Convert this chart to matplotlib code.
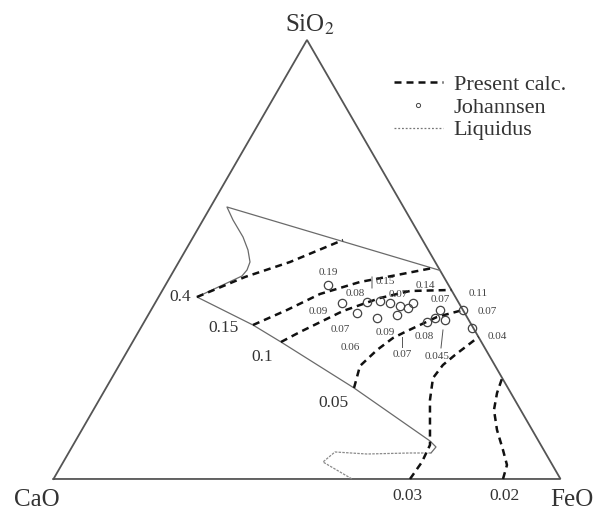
import numpy as np
import matplotlib
matplotlib.use("Agg")
import matplotlib.pyplot as plt
from matplotlib.lines import Line2D

plt.rcParams['font.family'] = ['Liberation Serif', 'DejaVu Serif']
plt.rcParams['mathtext.fontset'] = 'stix'

# All compositions are mole fractions (SiO2, FeO); CaO = 1 - SiO2 - FeO
# Liquidus boundary (solid part)
liq_sio2 = [0.475, 0.6195, 0.5899, 0.5512, 0.5216, 0.4942, 0.4760, 0.4623,
            0.4145, 0.3507, 0.3120, 0.2073, 0.0866, 0.0729, 0.0592]
liq_feo = [0.525, 0.0324, 0.0591, 0.0982, 0.1228, 0.1405, 0.1437, 0.1406,
           0.0757, 0.2181, 0.2927, 0.4891, 0.6993, 0.7180, 0.7150]
# Liquidus boundary (dotted lower part)
liqd_sio2 = [0.0592, 0.0592, 0.0569, 0.0615, 0.0387, 0.0]
liqd_feo = [0.7150, 0.6736, 0.5898, 0.5244, 0.5122, 0.5888]

# Present calculation iso-lines
iso_values = ["0.4", "0.15", "0.1", "0.05", "0.03", "0.02"]
iso_sio2 = [
    [0.4145, 0.4601, 0.4942, 0.5443],
    [0.3507, 0.3849, 0.4213, 0.4487, 0.4646, 0.4806],
    [0.3120, 0.3348, 0.3826, 0.4122, 0.4282, 0.4305],
    [0.2073, 0.2574, 0.2938, 0.3211, 0.3348, 0.3690, 0.3849],
    [0.0, 0.0387, 0.0774, 0.1799, 0.2300, 0.2597, 0.2824, 0.3234],
    [0.0, 0.0319, 0.0660, 0.1116, 0.1572, 0.1959, 0.2300],
]
iso_feo = [
    [0.0757, 0.1477, 0.2194, 0.2988],
    [0.2181, 0.2681, 0.3149, 0.3801, 0.4452, 0.5082],
    [0.2927, 0.3188, 0.3797, 0.4379, 0.4891, 0.5695],
    [0.4891, 0.4758, 0.4912, 0.5090, 0.5259, 0.5719, 0.6151],
    [0.7032, 0.7074, 0.7039, 0.6526, 0.6335, 0.6383, 0.6507, 0.6766],
    [0.8866, 0.8785, 0.8536, 0.8190, 0.7902, 0.7769, 0.7700],
]
# iso-line label anchor compositions
isolab_sio2 = [0.4145, 0.3439, 0.2779, 0.1731, 0.0, 0.0]
isolab_feo = [0.0422, 0.1643, 0.2723, 0.4648, 0.6989, 0.8902]

# Johannsen experimental points
joh_sio2 = [0.4418, 0.4009, 0.3781, 0.4031, 0.3667, 0.4054, 0.4009, 0.3735,
            0.3940, 0.3895, 0.4009, 0.3576, 0.3667, 0.3849, 0.3621, 0.3849, 0.3439]
joh_feo = [0.3205, 0.3686, 0.4096, 0.4167, 0.4547, 0.4413, 0.4633, 0.4907,
           0.4864, 0.5045, 0.5087, 0.5579, 0.5691, 0.5698, 0.5911, 0.6151, 0.6534]

# Johannsen values and their label compositions
jlab_text = ["0.19", "0.08", "0.15", "0.07", "0.14", "0.07", "0.11", "0.07", "0.04",
             "0.09", "0.07", "0.06", "0.09", "0.08", "0.07", "0.045"]
jlab_sio2 = [0.4692, 0.4236, 0.4487, 0.4191, 0.4418, 0.4077, 0.4236, 0.3826, 0.3234,
             0.3804, 0.3394, 0.2984, 0.3325, 0.3234, 0.2824, 0.2801]
jlab_feo = [0.3068, 0.3829, 0.4294, 0.4700, 0.5118, 0.5584, 0.6255, 0.6637, 0.7131,
            0.3315, 0.3954, 0.4356, 0.4875, 0.5691, 0.5462, 0.6163]
# leader ticks (pairs)
lead_sio2 = [[0.4601, 0.4350], [0.3234, 0.3006], [0.3394, 0.2984]]
lead_feo = [[0.3982, 0.4107], [0.5257, 0.5371], [0.5985, 0.6151]]

corner_names = ["CaO", "FeO", "SiO$_2$"]


def tern(s, f):
    s = np.asarray(s, dtype=float)
    f = np.asarray(f, dtype=float)
    return f + s / 2.0, s * np.sqrt(3) / 2.0


fig = plt.figure(figsize=(6.01, 5.13), dpi=100)
ax = fig.add_axes([0, 0, 1, 1])
ax.set_xlim(-0.1055, 1.0799)
ax.set_ylim(-0.0671, 0.9448)
ax.axis('off')

# triangle
tx, ty = tern([0, 0, 1, 0], [0, 1, 0, 0])
ax.plot(tx, ty, color='#555555', lw=1.3, solid_joinstyle='miter')

# liquidus
lx, ly = tern(liq_sio2, liq_feo)
ax.plot(lx, ly, color='#6a6a6a', lw=0.9)
dx, dy = tern(liqd_sio2, liqd_feo)
ax.plot(dx, dy, color='#8a8a8a', lw=0.9, linestyle=(0, (2, 1)))

# iso-lines
for s, f in zip(iso_sio2, iso_feo):
    x, y = tern(s, f)
    ax.plot(x, y, color='#111111', lw=1.8, dashes=(2.8, 2.0))

# iso labels
for i, (t, s, f) in enumerate(zip(iso_values, isolab_sio2, isolab_feo)):
    x, y = tern(s, f)
    if s == 0.0:
        ax.annotate(t, (x, y), xytext=(0, -12), textcoords='offset points',
                    ha='center', va='center', fontsize=12.5, color='#333333')
    else:
        ax.text(x, y, t, ha='center', va='center', fontsize=12.5, color='#333333')

# Johannsen points
jx, jy = tern(joh_sio2, joh_feo)
ax.plot(jx, jy, linestyle='none', marker='o', ms=6, mfc='none',
        mec='#444444', mew=0.9)

for t, s, f in zip(jlab_text, jlab_sio2, jlab_feo):
    x, y = tern(s, f)
    ax.text(x, y, t, ha='center', va='center', fontsize=8, color='#444444')

for s, f in zip(lead_sio2, lead_feo):
    x, y = tern(s, f)
    ax.plot(x, y, color='#555555', lw=0.7)

# corner labels
cx, cy = tern([0, 0, 1], [0, 1, 0])
ax.annotate(corner_names[0], (cx[0], cy[0]), xytext=(-12, -15), textcoords='offset points',
            ha='center', va='center', fontsize=18, color='#333333')
ax.annotate(corner_names[1], (cx[1], cy[1]), xytext=(8, -15), textcoords='offset points',
            ha='center', va='center', fontsize=18, color='#333333')
ax.annotate(corner_names[2], (cx[2], cy[2]), xytext=(2, 11), textcoords='offset points',
            ha='center', va='center', fontsize=18, color='#333333')

# legend
handles = [
    Line2D([], [], color='#111111', lw=1.8, dashes=(2.8, 2.0)),
    Line2D([], [], linestyle='none', marker='o', ms=3, mfc='none', mec='#444444', mew=0.7),
    Line2D([], [], color='#777777', lw=0.9, linestyle=(0, (1.5, 1.5))),
]
labels = ["Present calc.", "Johannsen", "Liquidus"]
leg = ax.legend(handles, labels, loc='upper left', bbox_to_anchor=(0.655, 0.855),
                frameon=False, fontsize=16, handlelength=2.2, handletextpad=0.5,
                labelspacing=0.1, borderpad=0, borderaxespad=0)
for t in leg.get_texts():
    t.set_color('#333333')

fig.savefig("out.png", dpi=100)
